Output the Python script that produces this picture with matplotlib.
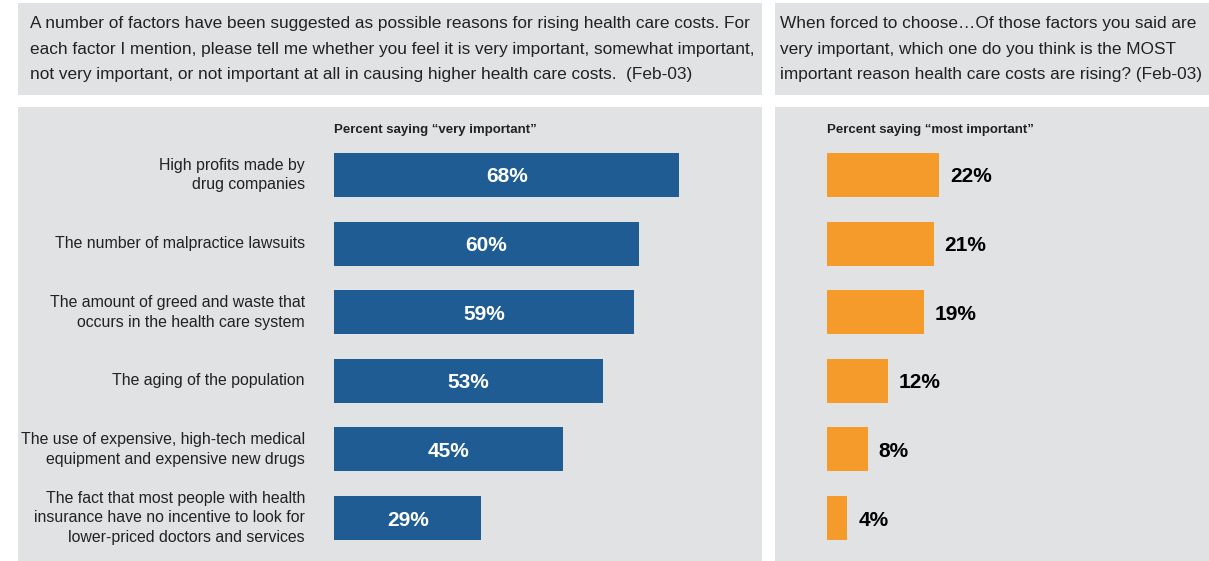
import matplotlib.pyplot as plt
from matplotlib.patches import Rectangle

factors = [
    "High profits made by\ndrug companies",
    "The number of malpractice lawsuits",
    "The amount of greed and waste that\noccurs in the health care system",
    "The aging of the population",
    "The use of expensive, high-tech medical\nequipment and expensive new drugs",
    "The fact that most people with health\ninsurance have no incentive to look for\nlower-priced doctors and services",
]
very_important = [68, 60, 59, 53, 45, 29]
most_important = [22, 21, 19, 12, 8, 4]

left_q = ("A number of factors have been suggested as possible reasons for rising health care costs. For\n"
          "each factor I mention, please tell me whether you feel it is very important, somewhat important,\n"
          "not very important, or not important at all in causing higher health care costs.  (Feb-03)")
right_q = ("When forced to choose\u2026Of those factors you said are\n"
           "very important, which one do you think is the MOST\n"
           "important reason health care costs are rising? (Feb-03)")

plt.rcParams['font.family'] = ['Liberation Sans', 'DejaVu Sans']

W, H = 1209, 561
fig = plt.figure(figsize=(W / 100, H / 100), dpi=100)
fig.patch.set_facecolor('white')

gray = '#e1e2e4'
blue = '#1f5c94'
orange = '#f59b2b'

def px_rect(x0, y0, x1, y1):
    # pixel coords (top-left origin) -> figure fraction
    return Rectangle((x0 / W, 1 - y1 / H), (x1 - x0) / W, (y1 - y0) / H,
                     transform=fig.transFigure, facecolor=gray, edgecolor='none', zorder=-5)

for r in [(18, 3, 762, 95), (775, 3, 1209, 95), (18, 107, 762, 561), (775, 107, 1209, 561)]:
    fig.patches.append(px_rect(*r))

fig.text(30 / W, 1 - 49 / H, left_q, ha='left', va='center', fontsize=12.4,
         linespacing=1.85, color='#222222')
fig.text(780 / W, 1 - 49 / H, right_q, ha='left', va='center', fontsize=12.4,
         linespacing=1.85, color='#222222')

px_per_pct = 5.08
step = 68.6
top_px, bot_px = 107, 561
y0_units = (175 - top_px) / step
ylim = (-y0_units + (bot_px - top_px) / step, -y0_units)
bar_h = 44 / step

def make_ax(x_px, w_px):
    ax = fig.add_axes([x_px / W, 1 - bot_px / H, w_px / W, (bot_px - top_px) / H])
    ax.set_xlim(0, w_px / px_per_pct)
    ax.set_ylim(*ylim)
    ax.axis('off')
    ax.patch.set_alpha(0)
    ax.set_zorder(2)
    return ax

pos = list(range(len(factors)))

ax1 = make_ax(334, 400)
ax1.barh(pos, very_important, height=bar_h, color=blue)
for p, v in zip(pos, very_important):
    ax1.text(v / 2, p, f"{v}%", ha='center', va='center_baseline', color='white',
             fontsize=15, fontweight='bold')
for p, lab in zip(pos, factors):
    ax1.text(-29 / px_per_pct, p, lab, ha='right', va='center', fontsize=11.4,
             linespacing=1.4, color='#222222', clip_on=False)
ax1.text(0, -y0_units + 23 / step, "Percent saying \u201cvery important\u201d", ha='left',
         va='center', fontsize=9.5, fontweight='bold', color='#222222', clip_on=False)

ax2 = make_ax(827, 370)
ax2.barh(pos, most_important, height=bar_h, color=orange)
for p, v in zip(pos, most_important):
    ax2.text(v + 11 / px_per_pct, p, f"{v}%", ha='left', va='center_baseline', color='black',
             fontsize=15, fontweight='bold')
ax2.text(0, -y0_units + 23 / step, "Percent saying \u201cmost important\u201d", ha='left',
         va='center', fontsize=9.5, fontweight='bold', color='#222222', clip_on=False)

fig.savefig('out.png', dpi=100)
